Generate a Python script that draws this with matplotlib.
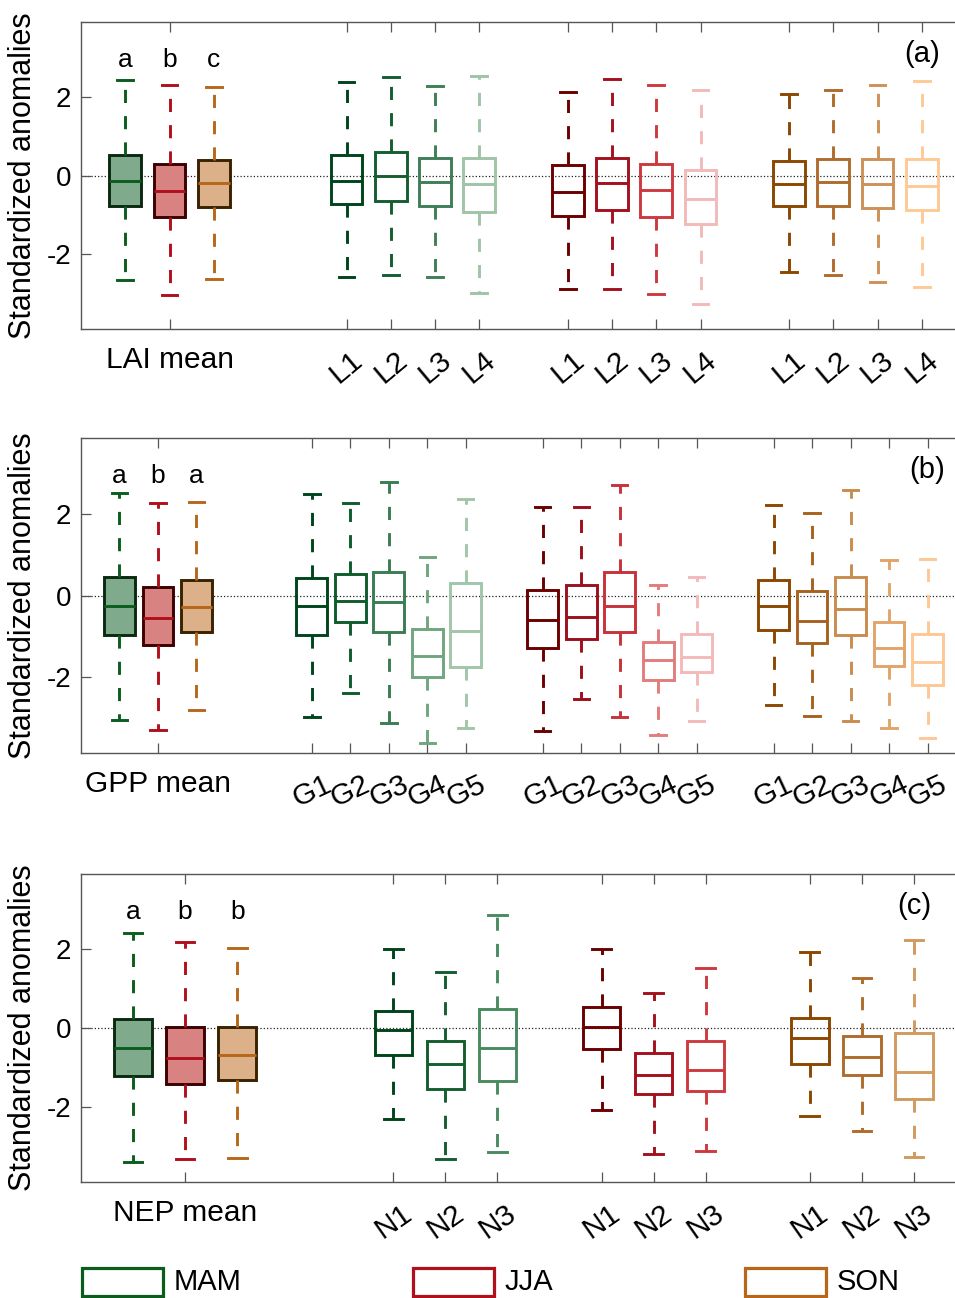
import matplotlib
matplotlib.use("Agg")
import matplotlib.pyplot as plt
from matplotlib.patches import Rectangle

plt.rcParams['font.family'] = ['Liberation Sans', 'DejaVu Sans']
plt.rcParams['axes.unicode_minus'] = False

seasons = ['MAM', 'JJA', 'SON']

# ---- panel (a): LAI ----
lai_levels = ['L1', 'L2', 'L3', 'L4']
lai_mean_letters = ['a', 'b', 'c']
lai_mean_hi = [2.43, 2.30, 2.26]
lai_mean_q3 = [0.52, 0.29, 0.40]
lai_mean_med = [-0.14, -0.40, -0.20]
lai_mean_q1 = [-0.77, -1.06, -0.81]
lai_mean_lo = [-2.67, -3.06, -2.65]
# rows: MAM, JJA, SON ; columns: L1..L4
lai_hi = [[2.40, 2.52, 2.28, 2.53], [2.14, 2.47, 2.30, 2.19], [2.09, 2.19, 2.32, 2.42]]
lai_q3 = [[0.53, 0.61, 0.44, 0.46], [0.26, 0.46, 0.30, 0.13], [0.38, 0.43, 0.43, 0.42]]
lai_med = [[-0.13, -0.01, -0.17, -0.21], [-0.43, -0.19, -0.38, -0.60], [-0.21, -0.16, -0.21, -0.26]]
lai_q1 = [[-0.72, -0.65, -0.79, -0.93], [-1.03, -0.89, -1.05, -1.24], [-0.77, -0.78, -0.83, -0.89]]
lai_lo = [[-2.58, -2.54, -2.60, -3.01], [-2.90, -2.89, -3.03, -3.28], [-2.46, -2.53, -2.71, -2.85]]

# ---- panel (b): GPP ----
gpp_levels = ['G1', 'G2', 'G3', 'G4', 'G5']
gpp_mean_letters = ['a', 'b', 'a']
gpp_mean_hi = [2.54, 2.28, 2.31]
gpp_mean_q3 = [0.47, 0.20, 0.38]
gpp_mean_med = [-0.25, -0.55, -0.29]
gpp_mean_q1 = [-0.97, -1.22, -0.89]
gpp_mean_lo = [-3.06, -3.31, -2.82]
gpp_hi = [[2.50, 2.29, 2.81, 0.95, 2.37], [2.19, 2.19, 2.72, 0.25, 0.45], [2.23, 2.03, 2.60, 0.88, 0.90]]
gpp_q3 = [[0.44, 0.53, 0.58, -0.82, 0.30], [0.13, 0.27, 0.57, -1.14, -0.94], [0.38, 0.12, 0.47, -0.66, -0.95]]
gpp_med = [[-0.25, -0.13, -0.15, -1.48, -0.87], [-0.60, -0.52, -0.25, -1.58, -1.51], [-0.25, -0.62, -0.34, -1.30, -1.63]]
gpp_q1 = [[-0.97, -0.66, -0.91, -2.01, -1.76], [-1.28, -1.06, -0.89, -2.08, -1.89], [-0.84, -1.16, -0.97, -1.73, -2.20]]
gpp_lo = [[-3.00, -2.40, -3.13, -3.64, -3.27], [-3.33, -2.54, -2.99, -3.43, -3.09], [-2.69, -2.98, -3.08, -3.27, -3.50]]

# ---- panel (c): NEP ----
nep_levels = ['N1', 'N2', 'N3']
nep_mean_letters = ['a', 'b', 'b']
nep_mean_hi = [2.42, 2.20, 2.04]
nep_mean_q3 = [0.24, 0.02, 0.02]
nep_mean_med = [-0.51, -0.76, -0.70]
nep_mean_q1 = [-1.23, -1.42, -1.32]
nep_mean_lo = [-3.42, -3.33, -3.31]
nep_hi = [[2.01, 1.43, 2.88], [2.01, 0.90, 1.53], [1.93, 1.26, 2.25]]
nep_q3 = [[0.44, -0.34, 0.47], [0.53, -0.63, -0.33], [0.25, -0.20, -0.14]]
nep_med = [[-0.04, -0.92, -0.52], [0.02, -1.21, -1.06], [-0.25, -0.75, -1.11]]
nep_q1 = [[-0.68, -1.55, -1.34], [-0.53, -1.67, -1.60], [-0.91, -1.19, -1.81]]
nep_lo = [[-2.31, -3.33, -3.16], [-2.08, -3.20, -3.12], [-2.24, -2.63, -3.29]]

# ---- styles ----
season_colors = ['#0b5d1e', '#b0101c', '#b8671a']
mean_faces = ['#7fab8c', '#d98282', '#dcb18a']
mean_edges = ['#0a2a10', '#3d0000', '#3a2200']
shade5 = [['#00441b', '#0e5b2c', '#3a7d52', '#6fa67f', '#a2c6aa'],
          ['#6b0000', '#9c0f1c', '#c8323b', '#e27d7d', '#f4baba'],
          ['#8a4800', '#a8621f', '#c98c4f', '#e1a56a', '#fec794']]
shade4 = [['#00441b', '#145e30', '#3e7f57', '#9fc4a8'],
          ['#6b0000', '#a3111e', '#cc3a40', '#f3baba'],
          ['#8a4800', '#b06c2c', '#cc9257', '#fdca95']]
shade3 = [['#00441b', '#145e30', '#4a8a60'],
          ['#6b0000', '#a3111e', '#cc3a40'],
          ['#8a4800', '#b06c2c', '#d19a5e']]
dash = (0, (4.5, 4.5))
LW = 2.1


def draw_box(ax, pos, width, lo, q1, med, q3, hi, color, face=None, edge=None, medc=None):
    st = [dict(whislo=lo, q1=q1, med=med, q3=q3, whishi=hi, fliers=[])]
    ax.bxp(st, positions=[pos], widths=width, patch_artist=True, showfliers=False,
           manage_ticks=False,
           boxprops=dict(facecolor=face if face else 'none', edgecolor=edge if edge else color, lw=LW),
           whiskerprops=dict(color=color, lw=LW, linestyle=dash),
           capprops=dict(color=color, lw=LW),
           medianprops=dict(color=medc if medc else color, lw=LW))


def panel(ax, name, levels, letters, m_hi, m_q3, m_med, m_q1, m_lo,
          hi, q3, med, q1, lo, shades, width, xmax, rot, tag):
    n = len(levels)
    ax.axhline(0, color='#222222', ls=':', lw=0.9, zorder=0.5)
    for s in range(3):
        p = -4 + s
        draw_box(ax, p, width, m_lo[s], m_q1[s], m_med[s], m_q3[s], m_hi[s],
                 season_colors[s], face=mean_faces[s], edge=mean_edges[s], medc=season_colors[s])
        ax.text(p, 2.95, letters[s], ha='center', va='center', fontsize=19)
    ticks = [-3]
    labels = [name]
    for s in range(3):
        for k in range(n):
            p = 1 + s * (n + 1) + k
            draw_box(ax, p, width, lo[s][k], q1[s][k], med[s][k], q3[s][k], hi[s][k], shades[s][k])
            ticks.append(p)
            labels.append(levels[k])
    ax.set_xticks(ticks, labels)
    for i, t in enumerate(ax.get_xticklabels()):
        t.set_rotation(0 if i == 0 else rot)
        t.set_fontsize(21.5)
    ax.set_xlim(-5, xmax)
    ax.set_yticks([-2, 0, 2])
    ax.tick_params(axis='y', labelsize=20, pad=7)
    ax.tick_params(axis='x', pad=12)
    ax.tick_params(direction='in', length=7, width=0.9, color='#555555', top=True, right=True)
    for sp in ax.spines.values():
        sp.set_color('#555555')
        sp.set_linewidth(1.0)
    ax.set_ylabel('Standardized anomalies', fontsize=22, labelpad=6)
    ax.text(ticks[-1], 3.1, tag, ha='center', va='center', fontsize=21)


fig = plt.figure(figsize=(9.55, 12.98), dpi=100)
left = 81 / 955
width = (966 - 81) / 955

ax_a = fig.add_axes([left, 0.7465, width, 0.2365])
ax_a.set_ylim(-3.92, 3.92)
panel(ax_a, 'LAI mean', lai_levels, lai_mean_letters, lai_mean_hi, lai_mean_q3, lai_mean_med,
      lai_mean_q1, lai_mean_lo, lai_hi, lai_q3, lai_med, lai_q1, lai_lo, shade4, 0.72, 15, 40, '(a)')

ax_b = fig.add_axes([left, 0.4196, width, 0.2431])
ax_b.set_ylim(-3.89, 3.89)
panel(ax_b, 'GPP mean', gpp_levels, gpp_mean_letters, gpp_mean_hi, gpp_mean_q3, gpp_mean_med,
      gpp_mean_q1, gpp_mean_lo, gpp_hi, gpp_q3, gpp_med, gpp_q1, gpp_lo, shade5, 0.8, 18, 25, '(b)')

ax_c = fig.add_axes([left, 0.0894, width, 0.2373])
ax_c.set_ylim(-3.92, 3.92)
panel(ax_c, 'NEP mean', nep_levels, nep_mean_letters, nep_mean_hi, nep_mean_q3, nep_mean_med,
      nep_mean_q1, nep_mean_lo, nep_hi, nep_q3, nep_med, nep_q1, nep_lo, shade3, 0.72, 12, 35, '(c)')

# legend drawn in figure pixels
leg_x = [82, 413, 745]
for s in range(3):
    x0 = leg_x[s]
    fig.add_artist(Rectangle((x0 / 955, 1 - 1296 / 1298), 81 / 955, 28 / 1298,
                             transform=fig.transFigure, facecolor='white',
                             edgecolor=season_colors[s], lw=2.3))
    fig.text((x0 + 92) / 955, 1 - 1282 / 1298, seasons[s], ha='left', va='center', fontsize=21)

fig.savefig('out.png', dpi=100)
